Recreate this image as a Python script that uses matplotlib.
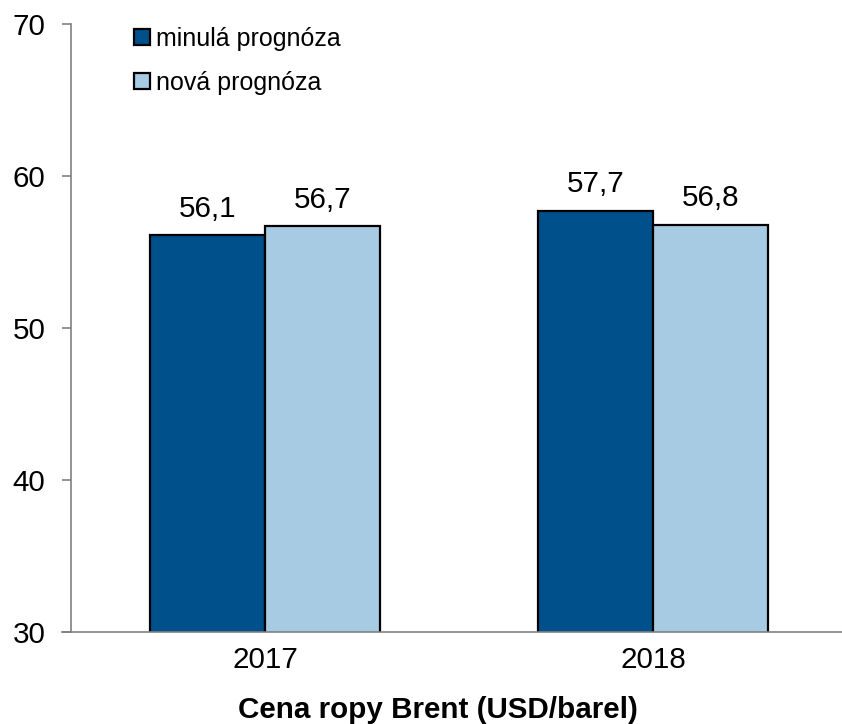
import matplotlib
matplotlib.use("Agg")
import matplotlib.pyplot as plt
import numpy as np

plt.rcParams['font.family'] = ['Liberation Sans', 'DejaVu Sans']

years = ["2017", "2018"]
previous = [56.1, 57.7]
new = [56.7, 56.8]
series_names = ["minulá prognóza", "nová prognóza"]
colors = ["#00508C", "#A6CBE3"]
yticks = [30, 40, 50, 60, 70]

FS = 21.3

fig = plt.figure(figsize=(8.42, 7.24), dpi=100)
ax = fig.add_axes([71/842, 1-632/724, (847-71)/842, (632-24)/724])

x = np.arange(len(years))
w = 0.296
b1 = ax.bar(x - w/2, previous, w, color=colors[0], edgecolor="black", linewidth=1.6,
            label=series_names[0], zorder=2)
b2 = ax.bar(x + w/2, new, w, color=colors[1], edgecolor="black", linewidth=1.6,
            label=series_names[1], zorder=2)

for bars, vals in ((b1, previous), (b2, new)):
    for rect, v in zip(bars, vals):
        ax.annotate(f"{v:.1f}".replace(".", ","),
                    (rect.get_x() + rect.get_width()/2, v),
                    xytext=(0, 9), textcoords="offset points",
                    ha="center", va="bottom", fontsize=FS)

ax.set_ylim(30, 70)
ax.set_xlim(-0.5, 1.5)
ax.set_yticks(yticks)
ax.set_xticks(x)
ax.set_xticklabels(years)
ax.tick_params(axis="y", length=6.5, width=1.2, color="#808080", labelsize=FS, pad=12)
ax.tick_params(axis="x", length=0, labelsize=FS, pad=10)
for s in ("top", "right"):
    ax.spines[s].set_visible(False)
for s in ("left", "bottom"):
    ax.spines[s].set_color("#808080")
    ax.spines[s].set_linewidth(1.2)
ax.spines["bottom"].set_bounds(-0.5 - 9/388, 1.5)
ax.spines["bottom"].set_zorder(3)

leg = ax.legend(loc="upper left", bbox_to_anchor=(0.068, 1.0115), frameon=False,
                fontsize=18, handlelength=0.65, handleheight=0.6,
                handletextpad=0.25, labelspacing=0.78, borderaxespad=0)
for h in leg.legend_handles:
    h.set_linewidth(1.6)

fig.text(438/842, 1-710/724, "Cena ropy Brent (USD/barel)", ha="center", va="center",
         fontsize=FS, fontweight="bold")

fig.savefig("out.png", dpi=100)
